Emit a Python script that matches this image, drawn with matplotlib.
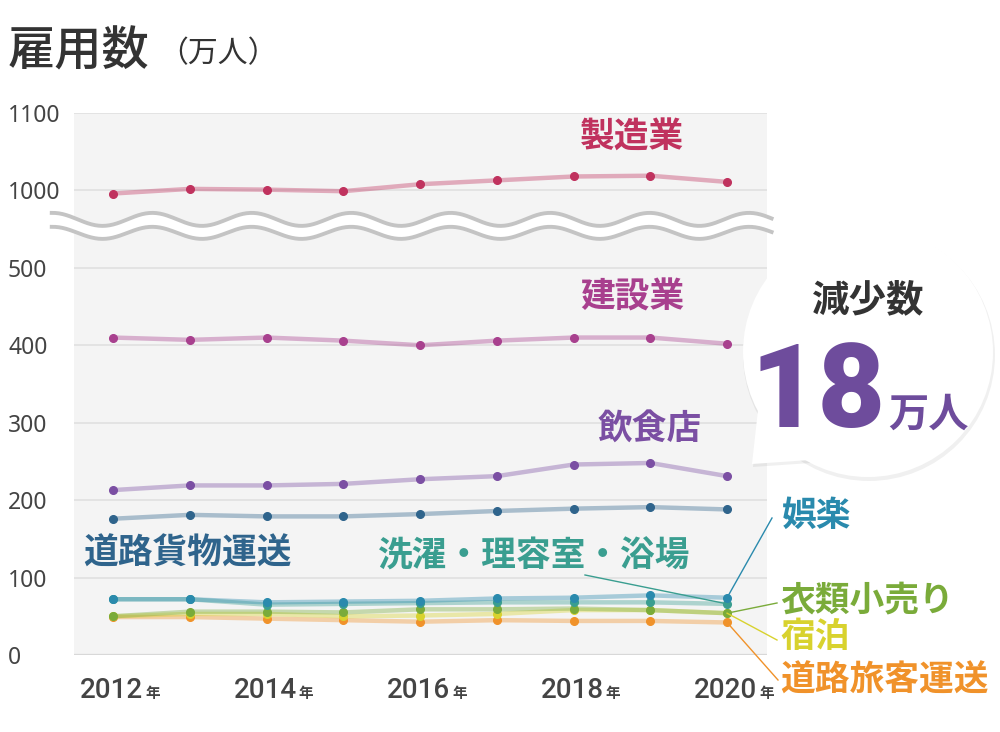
import matplotlib.pyplot as plt
import numpy as np
from matplotlib.patches import Circle, Polygon

plt.rcParams['font.family'] = ['Noto Sans CJK JP', 'DejaVu Sans']

# データ（万人）
years = [2012, 2013, 2014, 2015, 2016, 2017, 2018, 2019, 2020]
manufacturing = [996, 1002, 1001, 999, 1008, 1013, 1018, 1019, 1011]
construction = [410, 407, 410, 406, 400, 406, 410, 410, 402]
restaurants = [213, 219, 219, 221, 227, 231, 246, 248, 231]
freight = [176, 181, 179, 179, 182, 186, 189, 191, 188]
entertainment = [72, 72, 68, 69, 70, 73, 74, 77, 74]
laundry = [72, 72, 65, 66, 67, 68, 68, 68, 66]
clothing = [50, 56, 56, 55, 59, 59, 60, 58, 54]
lodging = [50, 53, 53, 50, 51, 53, 58, 58, 54]
passenger = [49, 49, 47, 45, 43, 45, 44, 44, 42]

ytick_vals = [0, 100, 200, 300, 400, 500, 1000, 1100]
year_ticks = [2012, 2014, 2016, 2018, 2020]

DIGITS = ['Roboto', 'Noto Sans CJK JP']


def shown(v):
    # 500〜1000 を省略した軸
    return v - 400 if v > 500 else v


fig = plt.figure(figsize=(10, 7.32), dpi=100)
ax = fig.add_axes([74 / 1000, 1 - 655 / 732, (767 - 74) / 1000, (655 - 113) / 732])
ax.set_facecolor('#f4f4f4')
ax.set_xlim(2011.49, 2020.52)
ax.set_ylim(0, 700)
for s in ax.spines.values():
    s.set_visible(False)

ypos = [shown(v) for v in ytick_vals]
for p in ypos:
    if p == 0:
        ax.axhline(p, color='#d8d8d8', lw=1.6, zorder=1)
    else:
        ax.axhline(p, color='#e3e3e3', lw=1.4, zorder=1)
ax.set_yticks(ypos)
ax.set_yticklabels([str(v) for v in ytick_vals], ha='left', fontsize=16.5, color='#444444',
                   family=['Noto Sans', 'DejaVu Sans'])
ax.tick_params(axis='y', length=0, pad=47.5)
ax.set_xticks([])

# 波線（省略記号）
wx = np.linspace(2011.2, 2020.58, 400)
phase = np.cos(2 * np.pi * (wx - 2012.51) / 1.296)
up = 562.6 + 8.4 * phase
lo = 545.2 + 7.8 * phase
ax.fill_between(wx, lo, up, color='white', zorder=2, clip_on=False, lw=0)
ax.plot(wx, up, color='#c4c4c4', lw=2.8, zorder=3, clip_on=False)
ax.plot(wx, lo, color='#c4c4c4', lw=2.8, zorder=3, clip_on=False)

series = [
    (passenger, '#f0922a'),
    (lodging, '#d8d22e'),
    (clothing, '#7aab3a'),
    (laundry, '#3a9e90'),
    (entertainment, '#2a8aad'),
    (freight, '#2f648c'),
    (restaurants, '#7b4fa3'),
    (construction, '#a8408e'),
    (manufacturing, '#c0325e'),
]
for vals, col in series:
    yv = [shown(v) for v in vals]
    ax.plot(years, yv, color=col, alpha=0.38, lw=3.2, zorder=4, solid_capstyle='round')
for vals, col in series:
    yv = [shown(v) for v in vals]
    ax.plot(years, yv, 'o', color=col, ms=5.5, zorder=5)

# 年ラベル
for yr in year_ticks:
    ax.annotate(str(yr), xy=(yr, 0), xycoords=('data', 'axes fraction'),
                xytext=(21.6, -25.2), textcoords='offset points', ha='right', va='center',
                fontsize=20, fontweight='medium', color='#444444', family=DIGITS,
                annotation_clip=False)
    ax.annotate('年', xy=(yr, 0), xycoords=('data', 'axes fraction'),
                xytext=(23, -27.5), textcoords='offset points', ha='left', va='center',
                fontsize=10.5, fontweight='bold', color='#444444', annotation_clip=False)

# 重ね描き用（ピクセル座標）
ov = fig.add_axes([0, 0, 1, 1])
ov.set_xlim(0, 1000)
ov.set_ylim(732, 0)
ov.axis('off')
ov.patch.set_alpha(0)


def px(year, val):
    x, y = ax.transData.transform((year, shown(val)))
    return x, 732 - y


ov.text(8, 52, '雇用数', fontsize=34, fontweight='medium', color='#333333', va='center', ha='left')
ov.text(158, 54, '（万人）', fontsize=21.5, color='#333333', va='center', ha='left')

labels = [
    ('製造業', 580, 137, '#c0325e'),
    ('建設業', 580, 297, '#a8408e'),
    ('飲食店', 598, 428, '#7b4fa3'),
    ('道路貨物運送', 83, 553, '#2f648c'),
    ('洗濯・理容室・浴場', 378, 556, '#3a9e90'),
    ('娯楽', 782, 515, '#2a8aad'),
    ('衣類小売り', 780, 600, '#7aab3a'),
    ('宿泊', 780, 637, '#d8d22e'),
    ('道路旅客運送', 780, 680, '#f0922a'),
]
for txt, x, y, col in labels:
    ov.text(x, y, txt, fontsize=25, fontweight='bold', color=col, ha='left', va='center')

# 引き出し線
leaders = [
    (entertainment[-1], (772, 518), '#2a8aad'),
    (laundry[-1], (585, 575), '#3a9e90'),
    (clothing[-1], (777, 603), '#7aab3a'),
    (lodging[-1], (777, 640), '#d8d22e'),
    (passenger[-1], (778, 680), '#f0922a'),
]
for val, end, col in leaders:
    sx, sy = px(2020, val)
    ov.plot([sx, end[0]], [sy, end[1]], color=col, lw=1.0, zorder=2)

# 吹き出し
cx, cy, r = 868, 352, 125
tail = [(758, 410), (752, 464), (810, 460)]
ov.add_patch(Circle((cx + 1, cy + 3), r + 1, color='#000000', alpha=0.06, lw=0, zorder=3))
ov.add_patch(Polygon([(x + 1, y + 3) for x, y in tail], color='#000000', alpha=0.06, lw=0, zorder=3))
ov.add_patch(Polygon(tail, color='white', lw=0, zorder=4))
ov.add_patch(Circle((cx, cy), r, color='white', lw=0, zorder=4))
ov.text(868, 300, '減少数', fontsize=27, fontweight='bold', color='#333333', ha='center', va='center', zorder=5)
ov.text(886, 427, '18', fontsize=84, fontweight='black', color='#6e4c9c', ha='right', va='baseline',
        family=DIGITS, zorder=5)
ov.text(888, 427, '万人', fontsize=29, fontweight='bold', color='#6e4c9c', ha='left', va='baseline', zorder=5)

fig.savefig('out.png', dpi=100)
